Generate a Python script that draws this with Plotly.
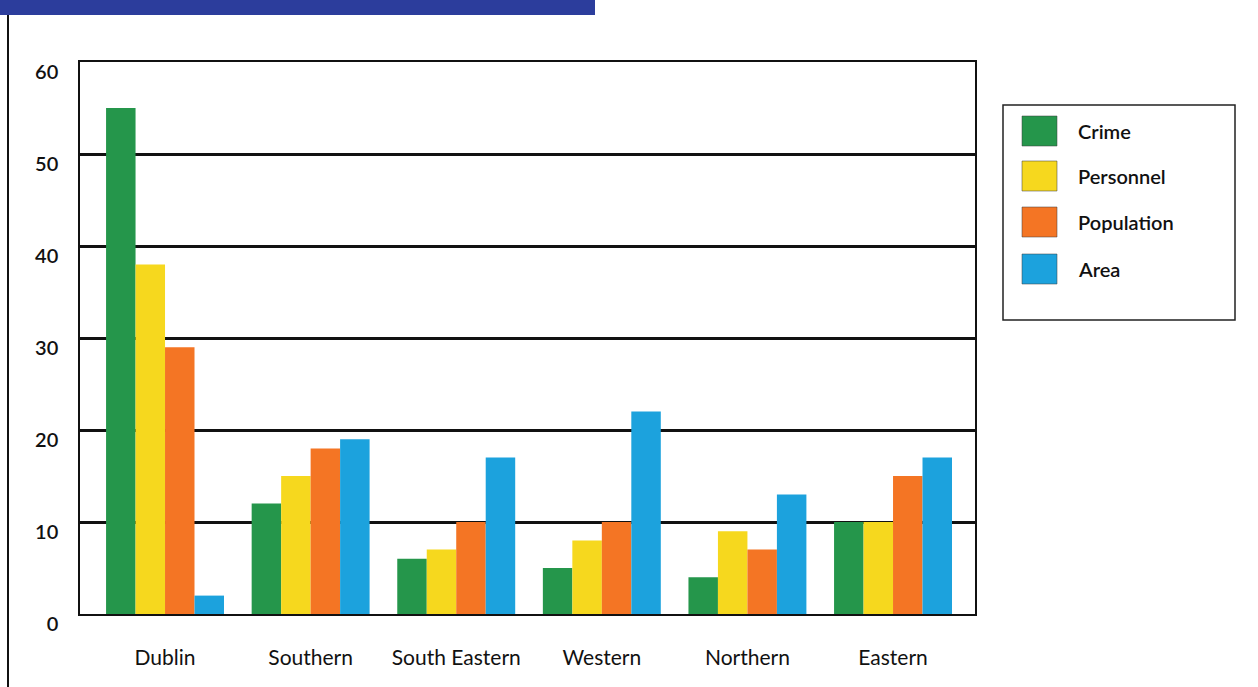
import plotly.graph_objects as go

# Regions and share (%) for each measure
regions = ["Dublin", "Southern", "South Eastern", "Western", "Northern", "Eastern"]
series_names = ["Crime", "Personnel", "Population", "Area"]
crime = [55, 12, 6, 5, 4, 10]
personnel = [38, 15, 7, 8, 9, 10]
population = [29, 18, 10, 10, 7, 15]
area = [2, 19, 17, 22, 13, 17]
series_values = [crime, personnel, population, area]
colors = ["#25964b", "#f6d81e", "#f47524", "#1ca2dd"]
y_ticks = [0, 10, 20, 30, 40, 50, 60]

W, H = 1258, 687
PL, PR, PT, PB = 80, 975, 62, 614  # plot area in pixels
FONT = "Lato, Open Sans, sans-serif"


def px(x):
    return (x - PL) / (PR - PL)


def py(y):
    return (PB - y) / (PB - PT)


fig = go.Figure()
for name, vals, col in zip(series_names, series_values, colors):
    fig.add_trace(go.Bar(
        x=list(range(len(regions))), y=vals, name=name,
        marker=dict(color=col, line=dict(width=0)),
        showlegend=False,
    ))

shapes = [
    # banner strip at the top of the page
    dict(type="rect", xref="paper", yref="paper",
         x0=px(0), x1=px(595), y0=py(15), y1=py(-2),
         fillcolor="#2c3d9c", line=dict(width=0), layer="above"),
    # page border on the left
    dict(type="line", xref="paper", yref="paper",
         x0=px(8), x1=px(8), y0=py(15), y1=py(690),
         line=dict(color="#111", width=2)),
    # legend frame
    dict(type="rect", xref="paper", yref="paper",
         x0=px(1003), x1=px(1235), y0=py(320), y1=py(105),
         fillcolor="white", line=dict(color="#222", width=1.5)),
]
annotations = []
item_y = [131, 176, 222, 269]
for name, col, cy in zip(series_names, colors, item_y):
    shapes.append(dict(type="rect", xref="paper", yref="paper",
                       x0=px(1022), x1=px(1057), y0=py(cy + 15), y1=py(cy - 15),
                       fillcolor=col, line=dict(color="rgba(60,60,60,0.5)", width=1)))
    annotations.append(dict(xref="paper", yref="paper", x=px(1076), y=py(cy),
                            text=name, showarrow=False, xanchor="left", yanchor="middle",
                            font=dict(family=FONT, size=20, color="#111", weight=600)))

fig.update_layout(
    width=W, height=H,
    margin=dict(l=PL, r=W - PR, t=PT, b=H - PB, pad=0),
    paper_bgcolor="white", plot_bgcolor="white",
    barmode="group", bargap=0.19, bargroupgap=0,
    shapes=shapes, annotations=annotations,
    showlegend=False,
    xaxis=dict(
        tickmode="array", tickvals=list(range(len(regions))), ticktext=regions,
        range=[-0.584, 5.563], showgrid=False, zeroline=False,
        showline=True, linecolor="#111", linewidth=2, mirror=True,
        ticks="", ticklabelstandoff=24,
        tickfont=dict(family=FONT, size=21, color="#111"),
    ),
    yaxis=dict(
        range=[0, 60], tickmode="array", tickvals=y_ticks,
        showgrid=True, gridcolor="#111", gridwidth=2.5, zeroline=False,
        showline=True, linecolor="#111", linewidth=1.5, mirror=True,
        ticks="", ticklabelstandoff=16, ticklabelshift=10,
        tickfont=dict(family=FONT, size=20, color="#111", weight=600),
    ),
)

fig.write_html("out.html")
